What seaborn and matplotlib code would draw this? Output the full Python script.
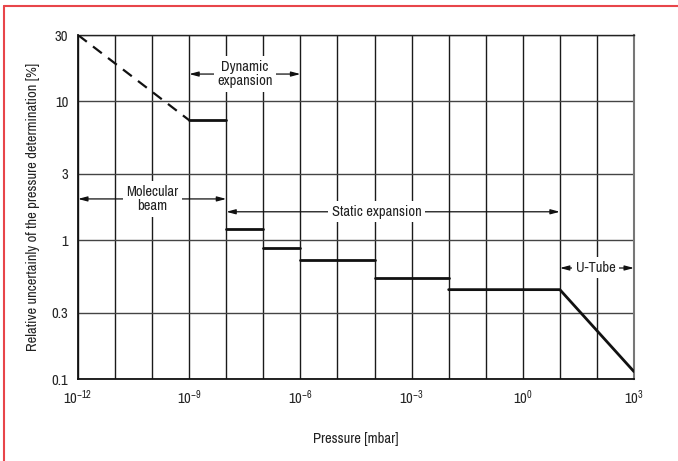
import matplotlib
matplotlib.use("Agg")
import matplotlib.pyplot as plt
import seaborn as sns
import pandas as pd
from matplotlib.lines import Line2D
from matplotlib.ticker import FixedLocator, FixedFormatter, NullLocator
from matplotlib import font_manager

# ---- data ----
dashed_x = [1e-12, 1e-9]
dashed_y = [30, 7.3]
step_x = [1e-9, 1e-8, 1e-8, 1e-7, 1e-7, 1e-6, 1e-6, 1e-4, 1e-4, 1e-2, 1e-2, 1e1, 1e3]
step_y = [7.3, 7.3, 1.2, 1.2, 0.88, 0.88, 0.72, 0.72, 0.535, 0.535, 0.44, 0.44, 0.113]
segment_breaks = [(0, 1), (2, 3), (4, 5), (6, 7), (8, 9), (10, 12)]
x_ticks = [1e-12, 1e-9, 1e-6, 1e-3, 1e0, 1e3]
x_tick_labels = ["$10^{-12}$", "$10^{-9}$", "$10^{-6}$", "$10^{-3}$", "$10^{0}$", "$10^{3}$"]
x_grid = [10.0 ** e for e in range(-12, 4)]
y_ticks = [0.1, 0.3, 1, 3, 10, 30]
y_tick_labels = ["0.1", "0.3", "1", "3", "10", "30"]
ranges = [
    ("Dynamic\nexpansion", 1e-9, 1e-6, 15.7, 10 ** -7.5),
    ("Molecular\nbeam", 1e-12, 1e-8, 1.98, 10 ** -10.0),
    ("Static expansion", 1e-8, 1e1, 1.6, 10 ** -3.95),
    ("U-Tube", 1e1, 1e3, 0.63, 10 ** 1.97),
]

sns.set_theme(style="white")

# choose a condensed font if one is installed
entries = font_manager.fontManager.ttflist
narrow = None
for e in entries:
    if ("Narrow" in e.name or "Condensed" in e.name) and e.weight in (400, "normal", "regular") and e.style == "normal":
        narrow = (e.name, "normal")
        break
if narrow is None:
    for e in entries:
        if e.stretch in ("condensed", "semi-condensed", 75, 87.5) and e.style == "normal" and e.weight in (400, "normal", "regular"):
            narrow = (e.name, e.stretch)
            break
if narrow is None:
    narrow = ("Liberation Sans", "normal")
FONT, STRETCH = narrow
scale = 1.0 if FONT != "Liberation Sans" else 0.85

plt.rcParams["font.family"] = [FONT, "DejaVu Sans"]
plt.rcParams["font.stretch"] = STRETCH
plt.rcParams["mathtext.fontset"] = "custom"
plt.rcParams["mathtext.rm"] = FONT
plt.rcParams["mathtext.it"] = FONT
plt.rcParams["mathtext.sf"] = FONT

FS = 10.5 * scale

fig = plt.figure(figsize=(6.78, 4.61), dpi=100)
ax = fig.add_axes([78 / 678, 1 - 379 / 461, (634 - 78) / 678, (379 - 35) / 461])

ax.set_xscale("log")
ax.set_yscale("log")
ax.set_xlim(1e-12, 1e3)
ax.set_ylim(0.1, 30)

# grid
for gx in x_grid:
    ax.axvline(gx, color="#1a1a1a", lw=1.0, zorder=1)
for gy in y_ticks:
    ax.axhline(gy, color="#444444", lw=1.0, zorder=1)

# dashed part
df_d = pd.DataFrame({"x": dashed_x, "y": dashed_y})
sns.lineplot(data=df_d, x="x", y="y", ax=ax, color="#111111", lw=1.6,
             linestyle=(0, (5, 3.5)), zorder=3)
# solid segments
for i0, i1 in segment_breaks:
    df_s = pd.DataFrame({"x": step_x[i0:i1 + 1], "y": step_y[i0:i1 + 1]})
    sns.lineplot(data=df_s, x="x", y="y", ax=ax, color="#111111", lw=2.0,
                 zorder=3, sort=False)

# range annotations
for label, x0, x1, yy, xc in ranges:
    for xe in (x0, x1):
        ax.annotate("", xy=(xe, yy), xytext=(xc, yy),
                    arrowprops=dict(arrowstyle="-|>,head_length=0.45,head_width=0.12",
                                    color="#111111", lw=0.9, shrinkA=0, shrinkB=0),
                    zorder=4)
    ax.text(xc, yy, label, ha="center", va="center", fontsize=FS,
            color="#222222", linespacing=1.05, zorder=5,
            bbox=dict(facecolor="white", edgecolor="none", pad=2.5))

ax.xaxis.set_major_locator(FixedLocator(x_ticks))
ax.xaxis.set_major_formatter(FixedFormatter(x_tick_labels))
ax.xaxis.set_minor_locator(NullLocator())
ax.yaxis.set_major_locator(FixedLocator(y_ticks))
ax.yaxis.set_major_formatter(FixedFormatter(y_tick_labels))
ax.yaxis.set_minor_locator(NullLocator())
ax.tick_params(axis="x", length=0, pad=7, labelsize=FS, colors="#222222")
ax.tick_params(axis="y", length=0, pad=7, labelsize=FS, colors="#222222")

for side in ["left", "bottom"]:
    ax.spines[side].set_color("#111111")
    ax.spines[side].set_linewidth(1.3)
ax.spines["right"].set_color("#777777")
ax.spines["right"].set_linewidth(1.5)
ax.spines["top"].set_color("#222222")
ax.spines["top"].set_linewidth(1.0)

ax.set_xlabel("Pressure [mbar]", fontsize=FS, color="#222222")
ax.set_ylabel("Relative uncertainly of the pressure determination [%]",
              fontsize=FS, color="#222222")
# place labels where the reference has them (pixel coords -> axes coords)
ax.xaxis.set_label_coords((356 - 78) / 556, -(432 - 379) / 344)
ax.yaxis.set_label_coords(-(78 - 40) / 556, (379 - 207) / 344)

# red frame (left and top)
fig.add_artist(Line2D([3.5 / 678, 3.5 / 678], [0, 1 - 6.5 / 461],
                      transform=fig.transFigure, color="#e8454a", lw=1.5))
fig.add_artist(Line2D([3.5 / 678, 1], [1 - 6.5 / 461, 1 - 6.5 / 461],
                      transform=fig.transFigure, color="#e8454a", lw=1.5))

fig.savefig("out.png", dpi=100)
